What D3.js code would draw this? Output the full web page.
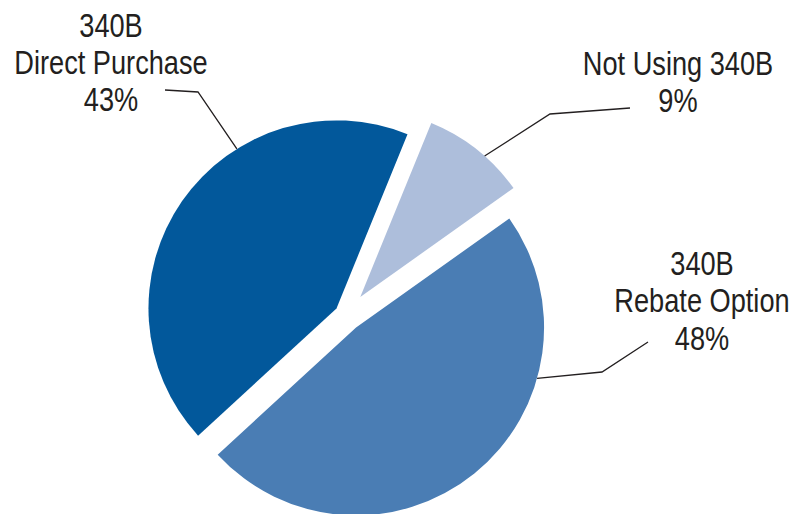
<!DOCTYPE html>
<html>
<head>
<meta charset="utf-8">
<script src="https://cdn.jsdelivr.net/npm/d3@7"></script>
<style>
  html, body { margin: 0; padding: 0; background: #fff; }
  svg { display: block; }
  .lbl { font-family: "Liberation Sans", Arial, sans-serif; fill: #231f20; }
</style>
</head>
<body>
<svg id="chart" width="794" height="514"></svg>
<script>
// Share of covered entities by 340B participation
const categories = ["Not Using 340B", "340B Rebate Option", "340B Direct Purchase"];
const labelLines = [["Not Using 340B"], ["340B", "Rebate Option"], ["340B", "Direct Purchase"]];
const shares = [9, 48, 43];
const colors = ["#adbedb", "#4a7db4", "#02589b"];

const W = 794, H = 514;
const deg = Math.PI / 180;
const radius = 188;
const cx = 346, cy = 315;
// how far each wedge is pulled out from the centre
const explode = [23, 16, 11.6];
// leader layout: angle on the rim where the line starts, elbow, label anchor
const leaders = [
  { rim: 41.4, elbow: [550, 114], end: [630, 108], text: [678, 75], lineH: 37.5 },
  { rim: 105.7, elbow: [602, 372], end: [648, 342], text: [702, 275], lineH: 37.5 },
  { rim: 328, elbow: [198, 92], end: [165, 90], text: [111, 37], lineH: 37 }
];
const fontSize = 34, narrow = 0.8;

const data = categories.map((c, i) => ({ name: c, value: shares[i], i }));

const pie = d3.pie().sort(null).value(d => d.value)
  .startAngle(22.2 * deg).endAngle(382.2 * deg);
const arcs = pie(data);
const arc = d3.arc().innerRadius(0).outerRadius(radius);

const svg = d3.select("#chart");
const g = svg.append("g").attr("transform", `translate(${cx},${cy})`);

function offset(a, i) {
  const mid = (a.startAngle + a.endAngle) / 2;
  return [Math.sin(mid) * explode[i], -Math.cos(mid) * explode[i]];
}

g.selectAll("path.slice")
  .data(arcs)
  .join("path")
  .attr("class", "slice")
  .attr("d", arc)
  .attr("fill", (d, i) => colors[i])
  .attr("transform", (d, i) => { const o = offset(d, i); return `translate(${o[0]},${o[1]})`; });

// leader lines and condensed labels
arcs.forEach((a, i) => {
  const o = offset(a, i);
  const L = leaders[i];
  const ang = L.rim * deg;
  const p0 = [cx + o[0] + Math.sin(ang) * radius, cy + o[1] - Math.cos(ang) * radius];
  svg.append("path")
    .attr("d", d3.line()([p0, L.elbow, L.end]))
    .attr("fill", "none")
    .attr("stroke", "#231f20")
    .attr("stroke-width", 1.3);

  const lines = labelLines[i].concat([shares[i] + "%"]);
  const t = svg.append("text")
    .attr("class", "lbl")
    .attr("text-anchor", "middle")
    .attr("font-size", fontSize)
    .attr("transform", `translate(${L.text[0]},${L.text[1]}) scale(${narrow},1)`);
  lines.forEach((s, k) => {
    t.append("tspan").attr("x", 0).attr("y", k * L.lineH).text(s);
  });
});
</script>
</body>
</html>
